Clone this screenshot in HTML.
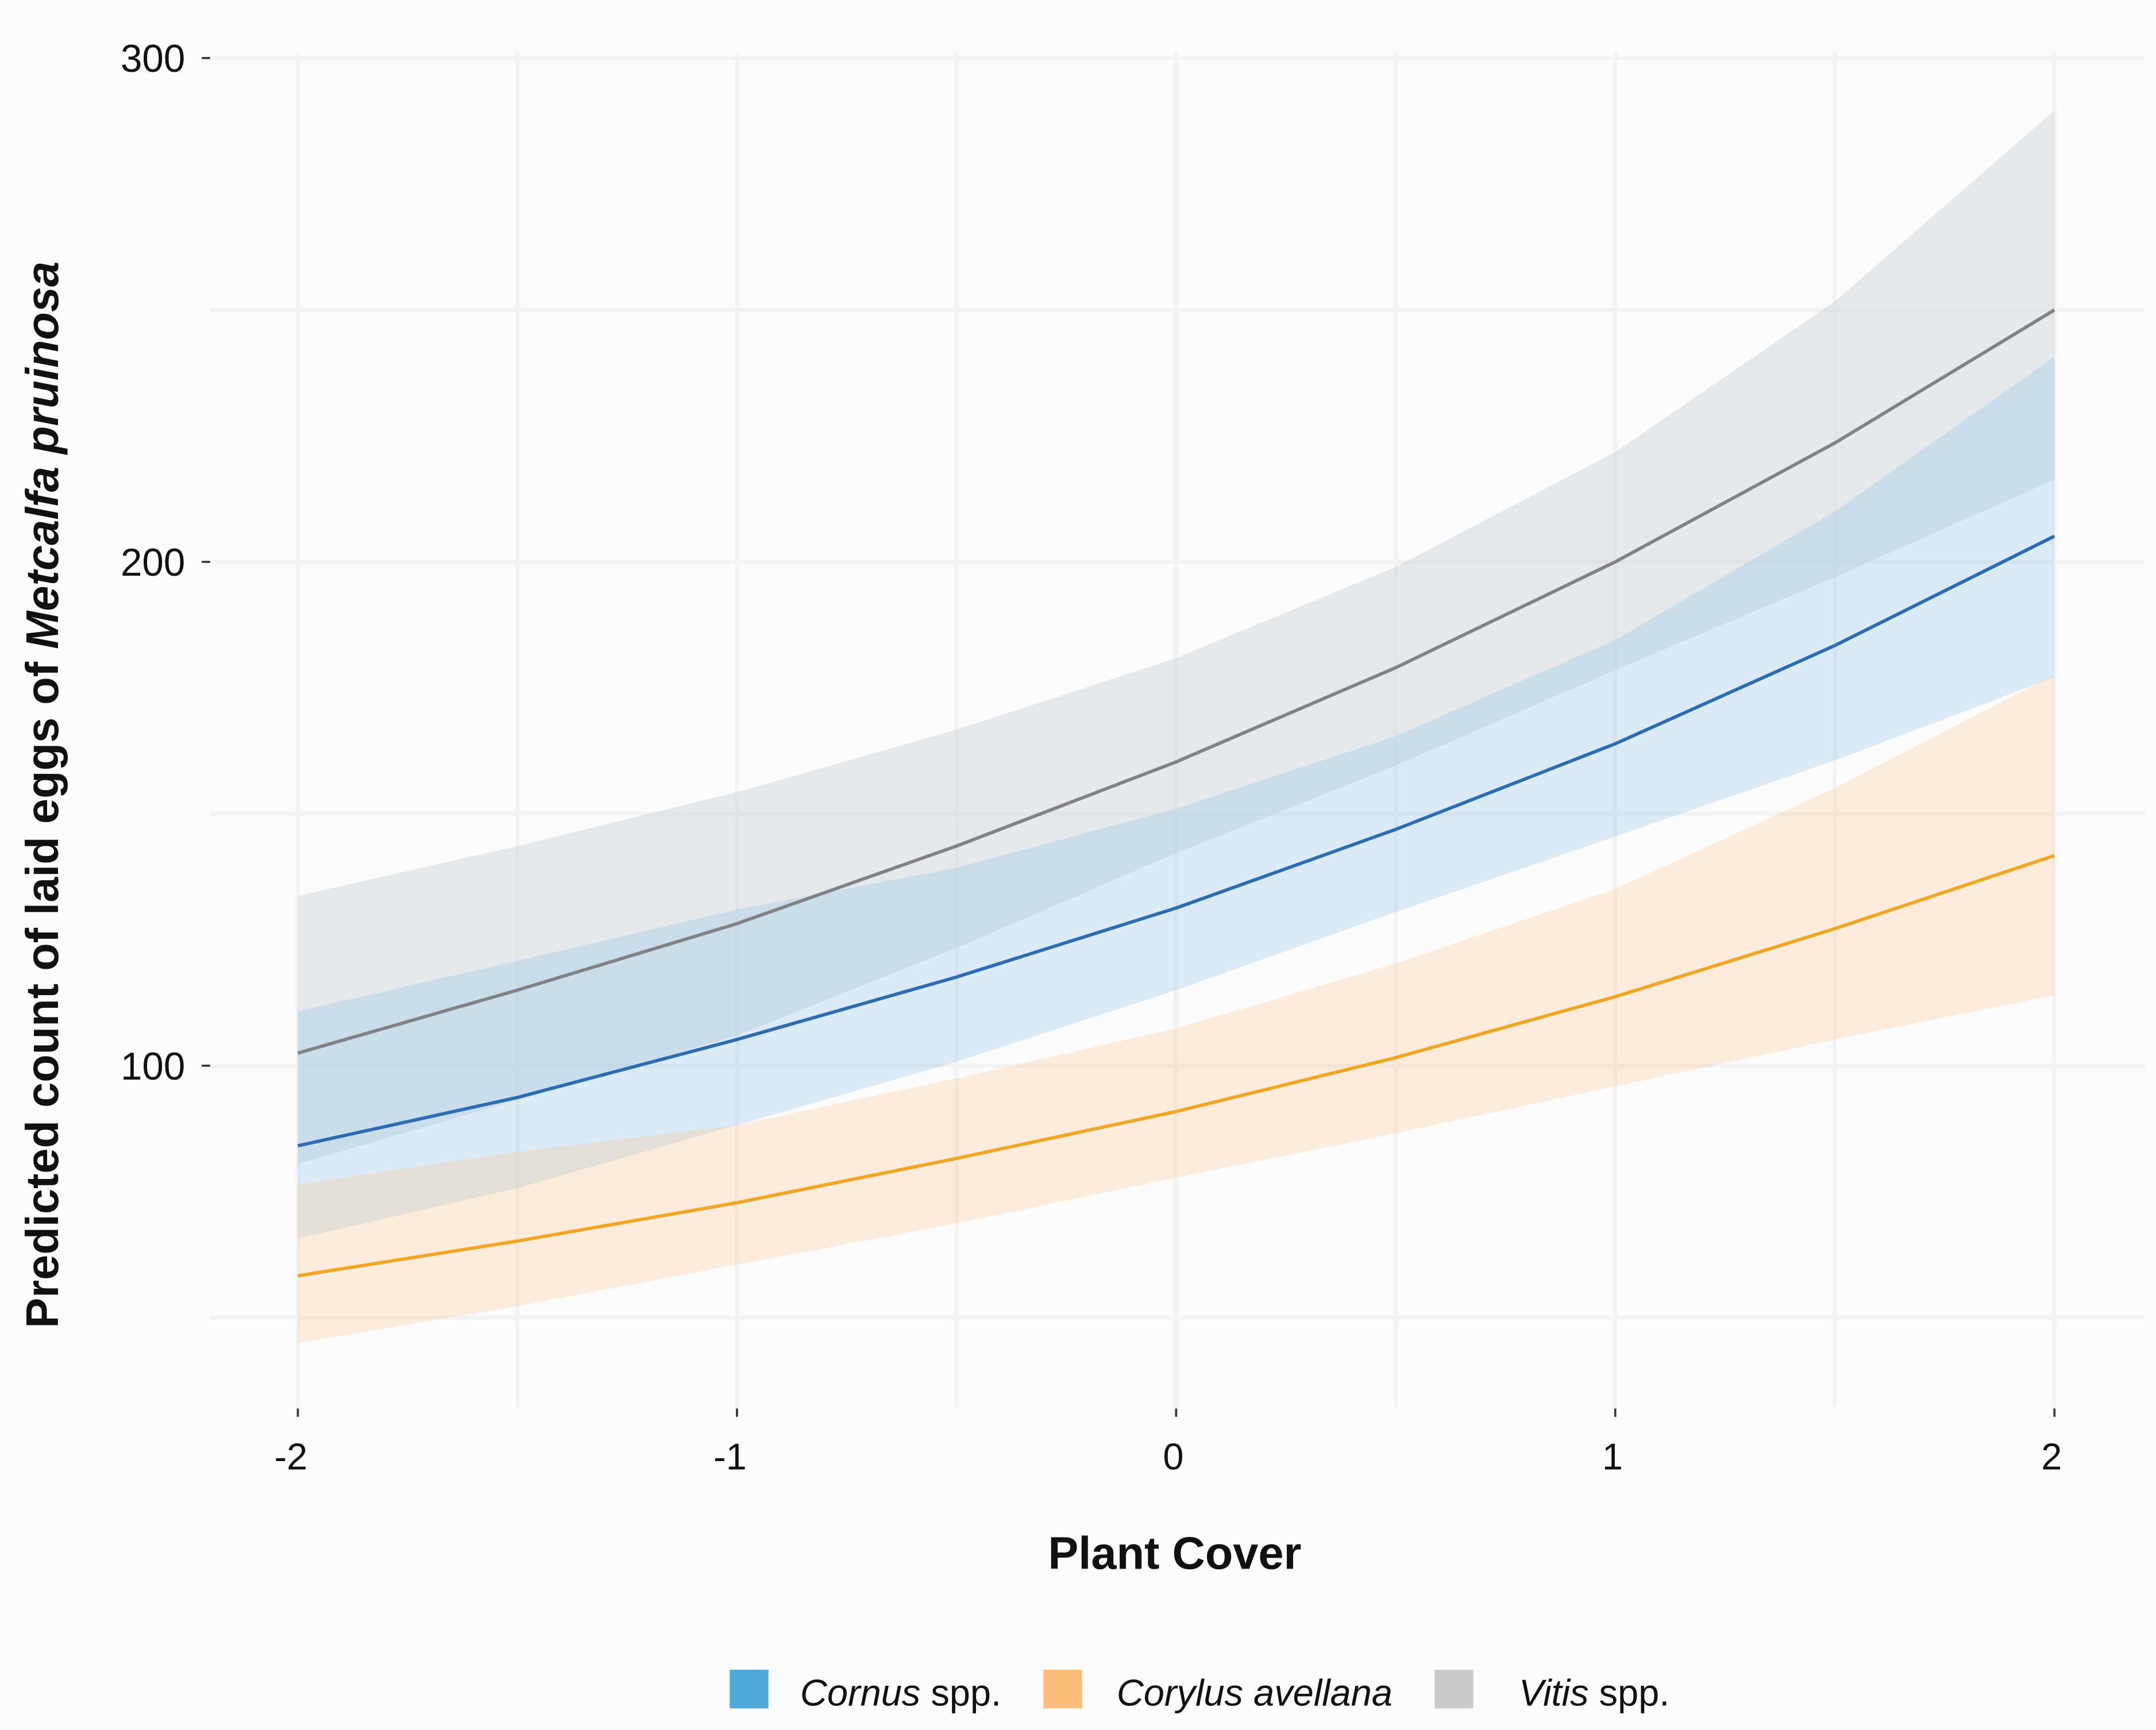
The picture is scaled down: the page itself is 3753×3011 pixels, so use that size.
<!DOCTYPE html>
<html><head><meta charset="utf-8"><style>
html,body{margin:0;padding:0;background:#fcfcfc;}
svg{display:block;}
text{font-family:"Liberation Sans",sans-serif;fill:#111;}
</style></head><body>
<svg id="chart" width="3753" height="3011" viewBox="0 0 1560 1251.6" preserveAspectRatio="none" xmlns="http://www.w3.org/2000/svg">
<rect x="0" y="0" width="1560" height="1252" fill="#fcfcfc"/>
<g id="grid"></g>
<g id="bands"></g>
<g id="lines"></g>
<g id="axes"></g>
<text x="850" y="1135" text-anchor="middle" font-size="33" font-weight="bold">Plant Cover</text>
<text transform="translate(42,575) rotate(-90)" text-anchor="middle" font-size="33" font-weight="bold">Predicted count of laid eggs of <tspan font-style="italic">Metcalfa pruinosa</tspan></text>
<g>
<rect x="528" y="1208" width="28" height="28" fill="#4eaad8"/>
<text x="579" y="1234" font-size="27"><tspan font-style="italic">Cornus</tspan> spp.</text>
<rect x="755" y="1208" width="28" height="28" fill="#fdbe7b"/>
<text x="808" y="1234" font-size="27" font-style="italic">Corylus avellana</text>
<rect x="1038" y="1208" width="28" height="28" fill="#c9cbcd"/>
<text x="1099" y="1234" font-size="27"><tspan font-style="italic">Vitis</tspan> spp.</text>
</g>
</svg>
<script>
const xs = [-2,-1.5,-1,-0.5,0,0.5,1,1.5,2];
const xTicks = [-2,-1,0,1,2];
const yTicks = [100,200,300];
const vitisFit = [102.5,115,128.2,143.6,160.3,179,200,223.6,250];
const vitisLo = [80.5,93.2,106,123.4,142.2,159.6,178.5,197,216.3];
const vitisHi = [133.7,143.6,154.3,166.7,180.9,199,221.8,251.7,289.6];
const cornusFit = [84.1,93.7,105.2,117.6,131.3,146.9,163.9,183.4,205.1];
const cornusLo = [65.7,75.7,88.2,100.8,115,130.5,145.5,160.6,177.1];
const cornusHi = [110.8,120.8,131,139.3,151,165.4,184.5,210,240.7];
const corylusFit = [58.3,65.2,72.8,81.6,90.9,101.6,113.7,127.2,141.7];
const corylusLo = [44.9,52.3,60.5,68.7,77.8,86.6,95.9,105.2,114];
const corylusHi = [76.4,82.9,88.2,97.5,107.4,120.3,135.1,155.1,177.6];

const NS='http://www.w3.org/2000/svg';
const X = v => 851 + v*317.75;
const Y = v => 771 - (v-100)*3.645;
function mk(tag, parent, attrs){const e=document.createElementNS(NS,tag);for(const k in attrs)e.setAttribute(k,attrs[k]);document.getElementById(parent).appendChild(e);return e;}

for(let g=-2; g<=2.001; g+=0.5){
  const l=mk('line','grid',{x1:X(g),x2:X(g),y1:38,y2:1018,stroke:'#f3f3f3','stroke-width':3});
  
  
}
for(let g=50; g<=300; g+=50){
  const l=mk('line','grid',{x1:152,x2:1552,y1:Y(g),y2:Y(g),stroke:'#f3f3f3','stroke-width':3});
  
  
}
function band(lo,hi,color,op,name){
  let d='M'+xs.map((x,i)=>X(x)+','+Y(hi[i])).join('L');
  d+='L'+xs.map((x,i)=>[X(x),Y(lo[i])]).reverse().map(p=>p.join(',')).join('L')+'Z';
  const p=mk('path','bands',{d:d,fill:color,'fill-opacity':op});
  
  
}
band(vitisLo,vitisHi,'#c6ccd1',0.4,'vitis-ci-band');
band(cornusLo,cornusHi,'#8cc4ea',0.3,'cornus-ci-band');
band(corylusLo,corylusHi,'#ffc88f',0.3,'corylus-ci-band');
function line(v,color,name){
  const p=mk('path','lines',{d:'M'+xs.map((x,i)=>X(x)+','+Y(v[i])).join('L'),fill:'none',stroke:color,'stroke-width':2.4});
  
  
}
line(vitisFit,'#808285','vitis-line');
line(cornusFit,'#2a6db5','cornus-line');
line(corylusFit,'#f4a51f','corylus-line');
xTicks.forEach(t=>{
  const m=mk('line','axes',{x1:X(t),x2:X(t),y1:1019,y2:1025,stroke:'#333','stroke-width':1.5});
  
  
  const tx=mk('text','axes',{x:X(t)-(t<0?5:2),y:1063,'text-anchor':'middle','font-size':27});
  tx.textContent=String(t);
  
  
});
yTicks.forEach(t=>{
  const m=mk('line','axes',{x1:146,x2:152,y1:Y(t),y2:Y(t),stroke:'#333','stroke-width':1.5});
  
  
  const tx=mk('text','axes',{x:134,y:Y(t)+10,'text-anchor':'end','font-size':28});
  tx.textContent=String(t);
  
  
});
</script>
</body></html>
